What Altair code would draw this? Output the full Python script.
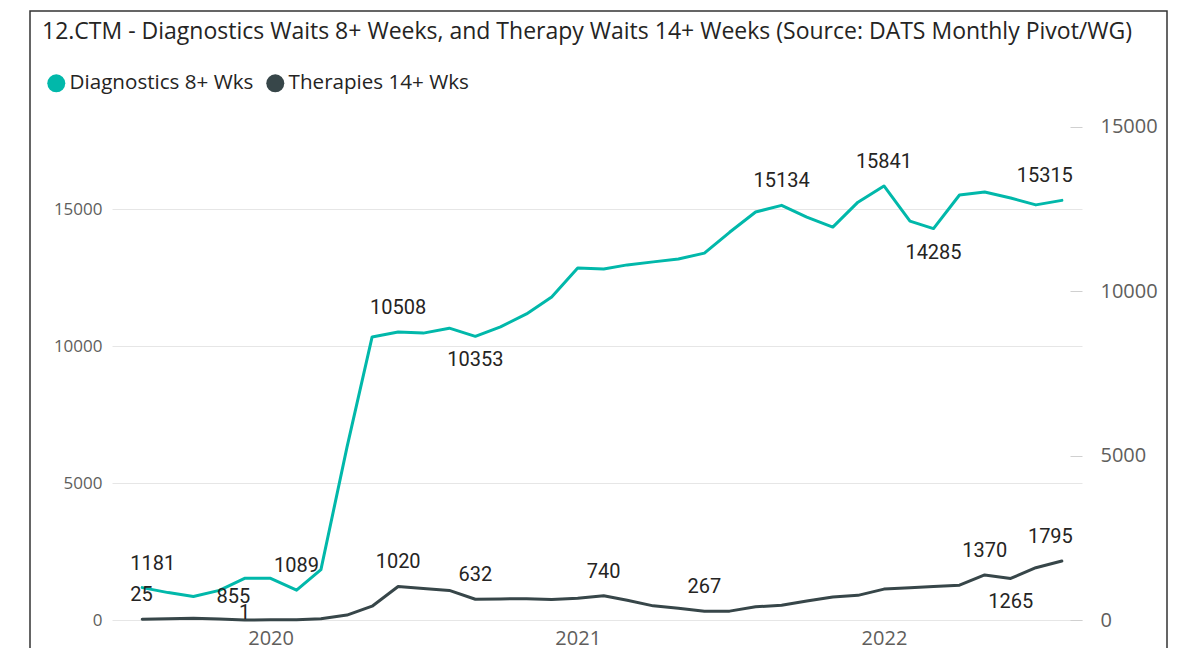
import altair as alt
import pandas as pd

# ---------------- data ----------------
DIAG = "Diagnostics 8+ Wks"
THER = "Therapies 14+ Wks"
series_names = [DIAG, THER]
series_colors = ["#01B8AA", "#374649"]

months = pd.date_range("2019-08-01", periods=37, freq="MS").strftime("%Y-%m-%d").tolist()

diagnostics = [1181, 1000, 855, 1080, 1520, 1520, 1089, 1840, 6300, 10330,
               10508, 10470, 10650, 10353, 10700, 11170, 11790, 12850, 12810, 12960,
               13070, 13175, 13390, 14150, 14890, 15134, 14700, 14340, 15250, 15841,
               14560, 14285, 15510, 15620, 15400, 15150, 15315]

therapies = [25, 40, 50, 30, 1, 5, 10, 40, 150, 420,
             1020, 960, 900, 632, 640, 650, 620, 660, 740, 600,
             430, 360, 267, 270, 400, 450, 580, 700, 750, 940,
             980, 1020, 1060, 1370, 1265, 1590, 1795]

# labelled points (1-based month index) and where the label sits
diag_label_idx = [1, 3, 7, 11, 14, 26, 30, 32, 37]
diag_label_pos = ["start", "right", "above", "above", "below", "above", "above", "below", "end"]
ther_label_idx = [1, 5, 11, 14, 19, 23, 34, 35, 37]
ther_label_pos = ["start", "low", "above", "above", "above", "above", "above", "below", "end"]

year_ticks = [2020, 2021, 2022]
left_ticks = [0, 5000, 10000, 15000]
right_ticks = [0, 5000, 10000, 15000]

# ---------------- styling ----------------
placements = {
    "above": dict(align="center", dx=0, dy=-24),
    "below": dict(align="center", dx=0, dy=24),
    "right": dict(align="center", dx=40, dy=0),
    "start": dict(align="left", dx=-12, dy=-24),
    "end": dict(align="right", dx=11, dy=-24),
    "low": dict(align="center", dx=0, dy=-7),
}

W, H = 970, 520
LEFT_MAX = H / 0.0274
RIGHT_MAX = H / 0.032867

df = pd.DataFrame({
    "date": months * 2,
    "series": [DIAG] * len(months) + [THER] * len(months),
    "value": diagnostics + therapies,
})

lab_rows = []
for s, vals, idxs, poss in [(DIAG, diagnostics, diag_label_idx, diag_label_pos),
                            (THER, therapies, ther_label_idx, ther_label_pos)]:
    for i, p in zip(idxs, poss):
        lab_rows.append({"date": months[i - 1], "series": s, "value": vals[i - 1], "pos": p})
labels = pd.DataFrame(lab_rows)

x_enc = alt.X(
    "date:T",
    title=None,
    scale=alt.Scale(type="utc",
                    domain=[alt.DateTime(year=2019, month=6, date=26, utc=True),
                            alt.DateTime(year=2022, month=8, date=25, utc=True)]),
    axis=alt.Axis(values=[alt.DateTime(year=y, month=1, date=1, utc=True) for y in year_ticks],
                  format="%Y", grid=False, domain=False, ticks=False,
                  labelFont="Open Sans", labelFontSize=20, labelColor="#605E5C",
                  labelPadding=8),
)

left_scale = alt.Scale(domain=[0, LEFT_MAX], nice=False, zero=True)
right_scale = alt.Scale(domain=[0, RIGHT_MAX], nice=False, zero=True)

diag_line = alt.Chart(df).transform_filter(alt.datum.series == DIAG).mark_line(
    color=series_colors[0], strokeWidth=3, strokeJoin="round", strokeCap="round"
).encode(
    x=x_enc,
    y=alt.Y("value:Q", title=None, scale=left_scale,
            axis=alt.Axis(values=left_ticks, format="d", grid=True, gridColor="#E6E6E6",
                          gridWidth=1, domain=False, ticks=False, labelPadding=10,
                          labelFont="Open Sans", labelFontSize=17, labelColor="#605E5C")),
)

ther_line = alt.Chart(df).transform_filter(alt.datum.series == THER).mark_line(
    color=series_colors[1], strokeWidth=3, strokeJoin="round", strokeCap="round"
).encode(
    x=x_enc,
    y=alt.Y("value:Q", title=None, scale=right_scale,
            axis=alt.Axis(orient="right", values=right_ticks, format="d", grid=False,
                          domain=False, ticks=True, tickSize=12, tickColor="#D0D0D0",
                          offset=-12, labelPadding=18,
                          labelFont="Open Sans", labelFontSize=20, labelColor="#605E5C")),
)

text_layers = []
for s, sc in [(DIAG, left_scale), (THER, right_scale)]:
    for pname, pstyle in placements.items():
        sub = labels[(labels.series == s) & (labels.pos == pname)]
        if len(sub) == 0:
            continue
        text_layers.append(
            alt.Chart(sub).mark_text(font="Roboto", fontSize=20, color="#252423",
                                     baseline="middle", **pstyle).encode(
                x=x_enc,
                y=alt.Y("value:Q", scale=sc, axis=None),
                text=alt.Text("value:Q", format="d"),
            )
        )

legend_layer = alt.Chart(pd.DataFrame({"series": series_names})).mark_circle(opacity=0).encode(
    color=alt.Color("series:N",
                    scale=alt.Scale(domain=series_names, range=series_colors),
                    legend=alt.Legend(title=None, orient="none", legendX=-66, legendY=-27,
                                      direction="horizontal", symbolType="circle",
                                      symbolSize=324, symbolOpacity=1, symbolStrokeWidth=0,
                                      labelFont="Open Sans", labelFontSize=20.6, labelLimit=0,
                                      labelColor="#252423", labelOffset=3,
                                      columnPadding=11, padding=0)),
)

frame = alt.Chart(pd.DataFrame({"a": [0]})).mark_rect(
    fill=None, stroke="#333333", strokeWidth=1.5
).encode(
    x=alt.value(-82), x2=alt.value(1055), y=alt.value(-89), y2=alt.value(560)
)

chart = alt.layer(frame, diag_line, ther_line, *text_layers, legend_layer).resolve_scale(
    y="independent"
).properties(
    width=W, height=H,
    padding={"left": 104, "top": 92, "right": 98, "bottom": 28},
    autosize=alt.AutoSizeParams(type="none"),
    title=alt.TitleParams(
        "12.CTM - Diagnostics Waits 8+ Weeks, and Therapy Waits 14+ Weeks (Source: DATS Monthly Pivot/WG)",
        anchor="start", frame="group", dx=-70, dy=34, font="Open Sans", fontSize=23,
        fontWeight="normal", color="#252423", offset=0),
).configure(background="white").configure_view(stroke=None)

chart.save("out.html", embed_options={"renderer": "svg", "actions": False})
